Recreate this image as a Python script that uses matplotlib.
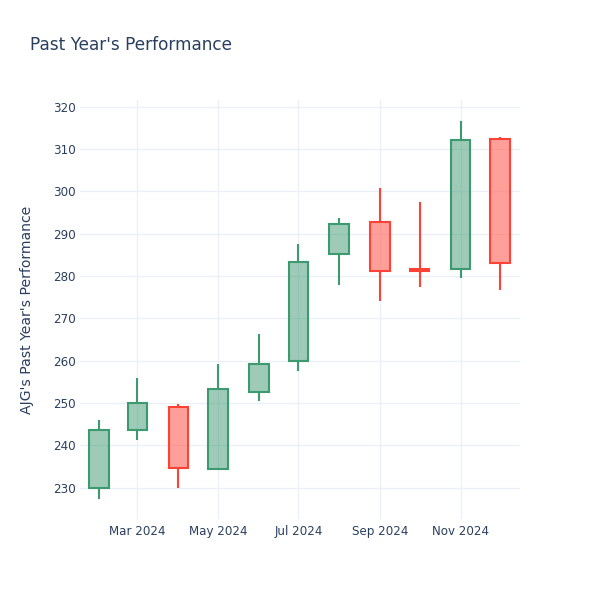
import matplotlib
matplotlib.use("Agg")
import matplotlib.pyplot as plt
import matplotlib.dates as mdates
import numpy as np
import datetime as dt

dates = ["2024-02-01", "2024-03-01", "2024-04-01", "2024-05-01", "2024-06-01", "2024-07-01",
         "2024-08-01", "2024-09-01", "2024-10-01", "2024-11-01", "2024-12-01"]
opens = [229.9, 243.6, 249.1, 234.4, 252.6, 259.9, 285.2, 292.8, 281.6, 281.6, 312.4]
highs = [246.1, 256.0, 249.7, 259.2, 266.3, 287.5, 293.8, 300.9, 297.6, 316.6, 312.9]
lows = [227.4, 241.2, 230.0, 234.2, 250.5, 257.5, 277.9, 274.1, 277.4, 279.6, 276.8]
closes = [243.7, 249.9, 234.6, 253.3, 259.2, 283.3, 292.4, 281.3, 281.2, 312.1, 283.0]

tick_dates = ["2024-03-01", "2024-05-01", "2024-07-01", "2024-09-01", "2024-11-01"]
y_ticks = [230, 240, 250, 260, 270, 280, 290, 300, 310, 320]

title = "Past Year's Performance"
ylabel = "AJG's Past Year's Performance"

INC_LINE = "#3D9970"
DEC_LINE = "#FF4136"
TEXT = "#2a3f5f"
GRID = "#EBF0F8"

fig = plt.figure(figsize=(6, 6), dpi=100)
ax = fig.add_axes([80/600, 81/600, 440/600, 419/600])

x = mdates.date2num([dt.datetime.fromisoformat(d) for d in dates])
width = 14.8
for xi, o, h, l, c in zip(x, opens, highs, lows, closes):
    col = INC_LINE if c >= o else DEC_LINE
    lo_b, hi_b = min(o, c), max(o, c)
    ax.vlines(xi, l, lo_b, color=col, linewidth=1.5, zorder=3)
    ax.vlines(xi, hi_b, h, color=col, linewidth=1.5, zorder=3)
    ax.bar(xi, hi_b - lo_b, bottom=lo_b, width=width, facecolor=matplotlib.colors.to_rgba(col, 0.5),
           edgecolor=col, linewidth=1.5, zorder=3)

xt = mdates.date2num([dt.datetime.fromisoformat(d) for d in tick_dates])
ax.set_xticks(xt)
ax.set_xticklabels([dt.datetime.fromisoformat(d).strftime("%b %Y") for d in tick_dates])
ax.set_yticks(y_ticks)
ax.set_yticklabels([str(v) for v in y_ticks])

mar1 = mdates.date2num(dt.datetime(2024, 3, 1))
nov1 = mdates.date2num(dt.datetime(2024, 11, 1))
ax.set_xlim(mar1 - 43.5, nov1 + 45.0)
ax.set_ylim(222.6, 321.6)

ax.grid(True, color=GRID, linewidth=1.0, zorder=0)
ax.set_axisbelow(True)
for s in ax.spines.values():
    s.set_visible(False)
ax.tick_params(axis="both", length=0, labelsize=8.6, labelcolor=TEXT)
ax.tick_params(axis="x", pad=4)
ax.tick_params(axis="y", pad=3)

ax.set_ylabel(ylabel, fontsize=10.1, color=TEXT, labelpad=14)
fig.text(30/600, 1 - 50.5/600, title, fontsize=12.2, color=TEXT, va="baseline", ha="left")

fig.savefig("out.png", dpi=100, facecolor="white")
